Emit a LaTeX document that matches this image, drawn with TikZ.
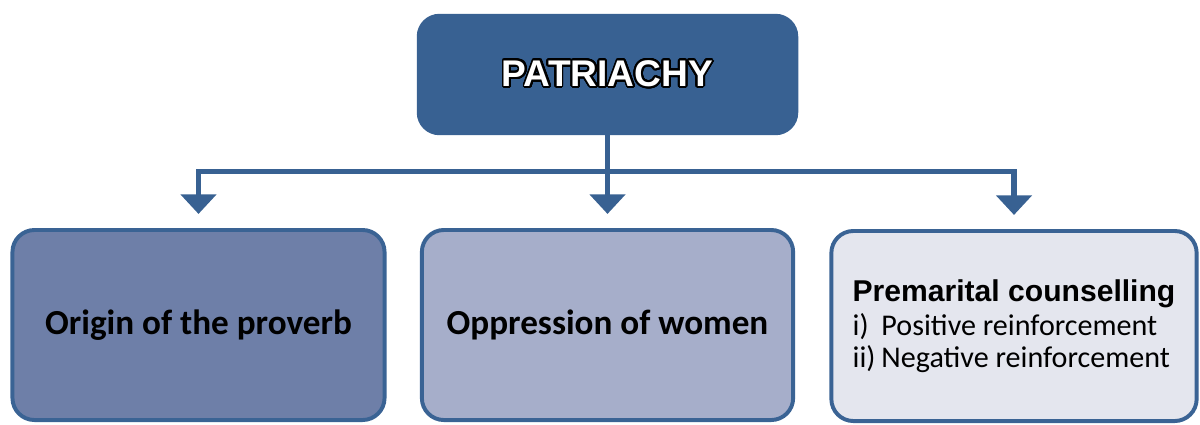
\documentclass[tikz,border=0pt]{standalone}
\usepackage{fontspec}
\setmainfont{Carlito}
\newfontfamily\arialfont{Liberation Sans}
\usepackage[copies]{contour}
\contourlength{1.3pt}
\contournumber{32}
\usetikzlibrary{arrows.meta}

\definecolor{darkblue}{RGB}{56,97,146}
\definecolor{edgeblue}{RGB}{58,99,148}
\definecolor{boxone}{RGB}{110,127,168}
\definecolor{boxtwo}{RGB}{166,174,202}
\definecolor{boxthree}{RGB}{228,230,238}

\begin{document}
\begin{tikzpicture}[x=0.025cm, y=-0.025cm,
    topbox/.style={fill=darkblue, draw=darkblue, line width=1pt, rounded corners=0.55cm,
      minimum width=9.5cm, minimum height=3cm, inner sep=0pt},
    subbox/.style={draw=edgeblue, line width=2.8pt, rounded corners=0.55cm,
      minimum height=4.75cm, inner sep=0pt, font=\fontsize{25}{30}\selectfont\bfseries},
    link/.style={draw=darkblue, line width=3.6pt,
      -{Triangle[width=25pt, length=14pt]}, shorten >=10pt}]
  \useasboundingbox (0,0) rectangle (1200,424);

  % top box
  \node[topbox] (patriachy) at (607.5,74.5)
    {\arialfont\bfseries\fontsize{26.4}{30}\selectfont\contour{black}{\textcolor{white}{PATRIACHY}}};

  % the three boxes below
  \node[subbox, fill=boxone, minimum width=9.3cm] (origin) at (198.5,325) {Origin of the proverb};
  \node[subbox, fill=boxtwo, minimum width=9.28cm] (oppression) at (607.5,325) {Oppression of women};
  \node[subbox, fill=boxthree, minimum width=9.13cm, align=left, font=\fontsize{21.4}{23.2}\selectfont] (counsel) at (1014,326)
    {{\arialfont\bfseries\fontsize{21.4}{25}\selectfont Premarital counselling}\\[1pt]
     \makebox[0.96em][l]{i)}Positive reinforcement\\
     \makebox[0.96em][l]{ii)}Negative reinforcement};

  % arrows
  \draw[link] (patriachy.south) -- ++(0,36) -| (origin.north);
  \draw[link] (patriachy.south) -- (oppression.north);
  \draw[link] (patriachy.south) -- ++(0,36) -| (counsel.north);
\end{tikzpicture}
\end{document}
